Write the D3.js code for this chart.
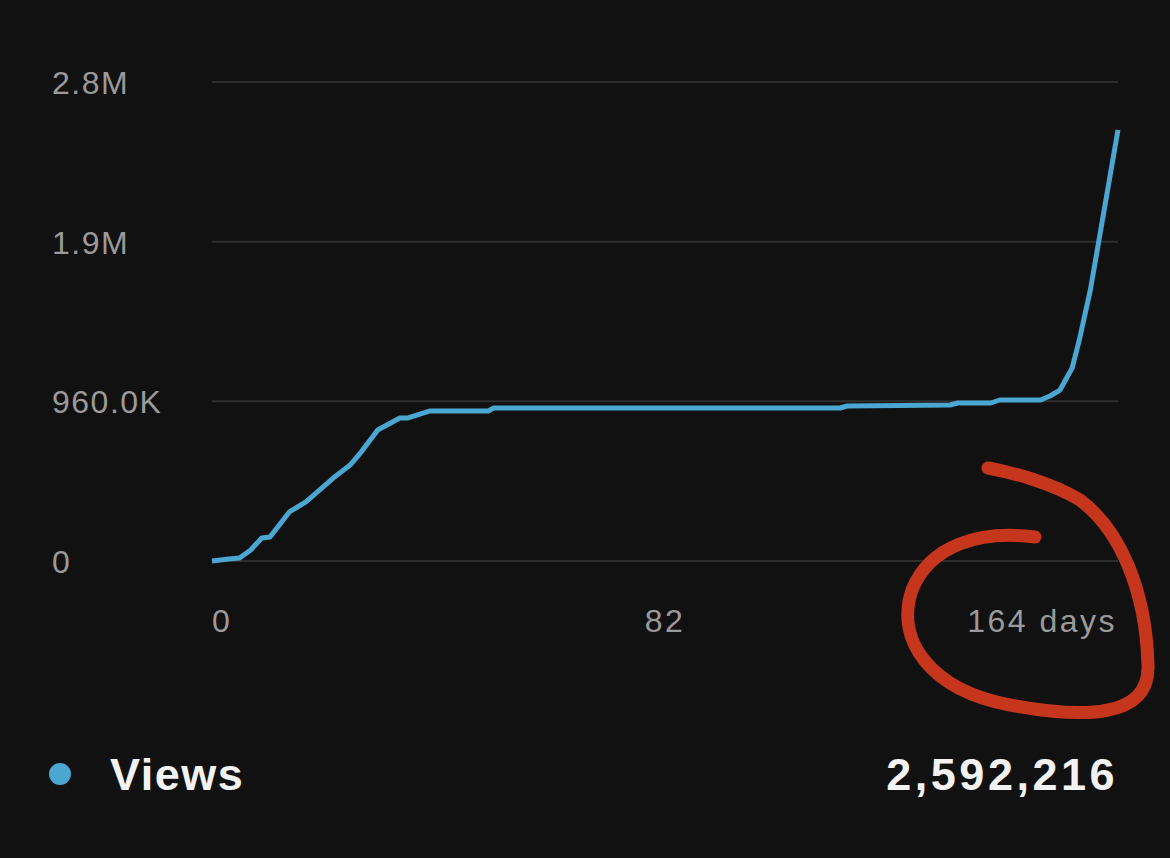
<!DOCTYPE html>
<html>
<head>
<meta charset="utf-8">
<script src="https://cdn.jsdelivr.net/npm/d3@7"></script>
<style>
  body { margin: 0; background: #111111; }
  svg { display: block; font-family: "Liberation Sans", Roboto, sans-serif; }
</style>
</head>
<body>
<svg id="chart" width="1170" height="858"></svg>
<script>
// days since publish vs cumulative views
const days = [0, 3, 5, 7, 9, 10.5, 14, 17, 19.5, 22, 25, 27, 30, 34, 35.5, 39.5, 50, 51, 113.7, 115, 133.6, 135, 141, 142.6, 150, 151.7, 153.5, 155.7, 157, 159, 164];
const views = [0, 12000, 18000, 66000, 138000, 144000, 295000, 355000, 427000, 500000, 577000, 655000, 788000, 860000, 860000, 902000, 902000, 920000, 920000, 932000, 938000, 950000, 950000, 968000, 968000, 992000, 1028000, 1160000, 1329000, 1630000, 2592216];
const yTicks = [0, 960000, 1920000, 2880000];
const yTickLabels = ['0', '960.0K', '1.9M', '2.8M'];
const xTicks = [0, 82, 164];
const xTickLabels = ['0', '82', '164 days'];
const total = '2,592,216';

const svg = d3.select('#chart');
const x = d3.scaleLinear().domain([0, 164]).range([212, 1118]);
const y = d3.scaleLinear().domain([0, 2880000]).range([561, 82]);

// grid
svg.append('g').selectAll('line')
  .data(yTicks)
  .enter().append('line')
  .attr('x1', 212).attr('x2', 1118)
  .attr('y1', d => y(d)).attr('y2', d => y(d))
  .attr('stroke', '#2e2e2e').attr('stroke-width', 2);

svg.append('g').selectAll('text')
  .data(yTicks)
  .enter().append('text')
  .attr('x', 52).attr('y', d => y(d) + 12)
  .attr('fill', '#9a9a9a').attr('font-size', 32).attr('letter-spacing', 1.5)
  .text((d, i) => yTickLabels[i]);

svg.append('g').selectAll('text')
  .data(xTicks)
  .enter().append('text')
  .attr('x', (d, i) => i === 2 ? 1117 : x(d))
  .attr('y', 632)
  .attr('text-anchor', (d, i) => ['start', 'middle', 'end'][i])
  .attr('fill', '#9a9a9a').attr('font-size', 32).attr('letter-spacing', 2.5)
  .text((d, i) => xTickLabels[i]);

// series
const line = d3.line().x(d => x(d[0])).y(d => y(d[1]));
svg.append('path')
  .datum(days.map((d, i) => [d, views[i]]))
  .attr('d', line)
  .attr('fill', 'none')
  .attr('stroke', '#4ba6d2')
  .attr('stroke-width', 5)
  .attr('stroke-linejoin', 'round');

// hand-drawn red circle annotation
svg.append('path')
  .attr('d', 'M1035,537 C980,530 930,545 912,590 C895,640 930,690 1010,705 C1080,718 1150,720 1148,665 C1146,590 1120,530 1080,500 C1050,482 1010,472 988,468')
  .attr('fill', 'none')
  .attr('stroke', '#d63a1e')
  .attr('stroke-width', 13)
  .attr('stroke-linecap', 'round')
  .attr('opacity', 0.92);

// legend
svg.append('circle').attr('cx', 60).attr('cy', 774).attr('r', 11).attr('fill', '#4ba6d2');
svg.append('text').attr('x', 110).attr('y', 790)
  .attr('fill', '#f2f2f2').attr('font-size', 45).attr('font-weight', 'bold').attr('letter-spacing', 1.5)
  .text('Views');
svg.append('text').attr('x', 1118).attr('y', 790).attr('text-anchor', 'end')
  .attr('fill', '#f2f2f2').attr('font-size', 45).attr('font-weight', 'bold').attr('letter-spacing', 3.5)
  .text(total);
</script>
</body>
</html>
